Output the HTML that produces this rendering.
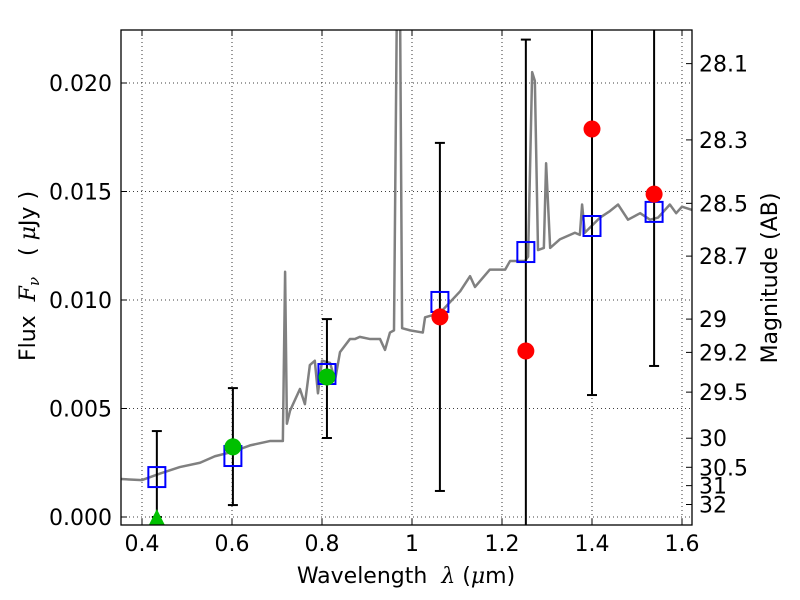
<!DOCTYPE html>
<html><head><meta charset="utf-8"><style>
html,body{margin:0;background:#fff;overflow:hidden;width:800px;height:600px}
svg{display:block;font-family:"DejaVu Sans","Liberation Sans",sans-serif}
text{white-space:pre}
</style></head><body>
<svg id="chart" width="800" height="600" xmlns="http://www.w3.org/2000/svg">
<defs><clipPath id="clip"><rect x="121" y="30" width="571" height="495"/></clipPath></defs>
<rect width="800" height="600" fill="#fff"/>
<g id="grid"></g>
<g id="marks" clip-path="url(#clip)"></g>
<g id="axes"></g>
<text x="406" y="583" text-anchor="middle" font-size="22">Wavelength  <tspan font-style="italic" font-family="DejaVu Serif, serif">λ</tspan> (<tspan font-style="italic" font-family="DejaVu Serif, serif">μ</tspan>m)</text>
<text transform="translate(35,276) rotate(-90)" text-anchor="middle" font-size="22">Flux  <tspan font-style="italic" font-family="DejaVu Serif, serif">F</tspan><tspan font-style="italic" font-family="DejaVu Serif, serif" font-size="15" dy="4">ν</tspan><tspan dy="-4">   ( </tspan><tspan font-style="italic" font-family="DejaVu Serif, serif">μ</tspan>Jy )</text>
<text transform="translate(777,278) rotate(-90)" text-anchor="middle" font-size="22">Magnitude (AB)</text>
</svg>
<script>
const specWl=[0.34,0.353,0.4,0.44,0.484,0.529,0.562,0.6,0.64,0.684,0.713,0.718,0.722,0.729,0.751,0.762,0.773,0.784,0.791,0.8,0.818,0.829,0.84,0.862,0.873,0.884,0.907,0.929,0.94,0.951,0.96,0.967,0.973,0.978,0.996,1.024,1.029,1.062,1.107,1.129,1.14,1.173,1.207,1.218,1.229,1.251,1.258,1.267,1.273,1.28,1.293,1.298,1.307,1.329,1.362,1.373,1.378,1.384,1.418,1.44,1.458,1.48,1.507,1.529,1.547,1.573,1.587,1.6,1.63];
const specFlux=[0.00175,0.00175,0.0017,0.0020,0.0023,0.0025,0.0028,0.0030,0.0033,0.0035,0.0035,0.0113,0.0043,0.0049,0.0059,0.0052,0.0070,0.0072,0.0057,0.0072,0.0071,0.0063,0.0076,0.0082,0.0082,0.0083,0.0082,0.0082,0.0077,0.0085,0.0086,0.025,0.025,0.0087,0.0086,0.0085,0.0092,0.0094,0.0104,0.0111,0.0106,0.0114,0.0114,0.0118,0.0118,0.0118,0.0120,0.0205,0.0201,0.0123,0.0124,0.0163,0.0124,0.0128,0.0131,0.0130,0.0144,0.0131,0.0138,0.0141,0.0144,0.0137,0.0140,0.0137,0.0138,0.0144,0.0140,0.0143,0.0141];
const modelWl=[0.433,0.602,0.811,1.062,1.253,1.4,1.538];
const modelFlux=[0.00184,0.00281,0.00659,0.00991,0.01221,0.01341,0.01406];
const obsWl=[0.433,0.602,0.811,1.062,1.253,1.4,1.538];
const obsFlux=[0.0,0.00323,0.00645,0.00922,0.00765,0.01788,0.01488];
const obsLo=[0.0,0.00055,0.00364,0.0012,-0.0067,0.00562,0.00696];
const obsHi=[0.00396,0.00594,0.00912,0.01724,0.0220,0.030,0.0228];
const obsColor=['#00c000','#00c000','#00c000','red','red','red','red'];
const xTicks=[0.4,0.6,0.8,1.0,1.2,1.4,1.6];
const xTickLabels=['0.4','0.6','0.8','1','1.2','1.4','1.6'];
const yTicks=[0,0.005,0.01,0.015,0.02];
const yTickLabels=['0.000','0.005','0.010','0.015','0.020'];
const magTicks=[28.1,28.3,28.5,28.7,29,29.2,29.5,30,30.5,31,32];
const magTickLabels=['28.1','28.3','28.5','28.7','29','29.2','29.5','30','30.5','31','32'];

const L=121,R=692,T=30,B=525;
const X=w=>142+(w-0.4)*450;
const Y=f=>517-f*21700;
const NS='http://www.w3.org/2000/svg';
function mk(tag,attrs,parent,text){const e=document.createElementNS(NS,tag);for(const k in attrs)e.setAttribute(k,attrs[k]);if(text!==undefined)e.textContent=text;parent.appendChild(e);return e;}
const grid=document.getElementById('grid'),marks=document.getElementById('marks'),axes=document.getElementById('axes');
xTicks.forEach(v=>{const l=mk('line',{x1:X(v),x2:X(v),y1:T,y2:B,stroke:'#000','stroke-width':0.8,'stroke-dasharray':'1,3'},grid);

});
yTicks.forEach(v=>{const l=mk('line',{x1:L,x2:R,y1:Y(v),y2:Y(v),stroke:'#000','stroke-width':0.8,'stroke-dasharray':'1,3'},grid);

});
const sp=mk('polyline',{points:specWl.map((w,i)=>X(w)+','+Y(specFlux[i])).join(' '),fill:'none',stroke:'#808080','stroke-width':2.5,'stroke-linejoin':'round'},marks);


obsWl.forEach((w,i)=>{const g=mk('g',{},marks);


const x=X(w);mk('line',{x1:x,x2:x,y1:Y(obsHi[i]),y2:Y(obsLo[i]),stroke:'#000','stroke-width':2},g);
mk('line',{x1:x-5,x2:x+5,y1:Y(obsHi[i]),y2:Y(obsHi[i]),stroke:'#000','stroke-width':2},g);
mk('line',{x1:x-5,x2:x+5,y1:Y(obsLo[i]),y2:Y(obsLo[i]),stroke:'#000','stroke-width':2},g);});
modelWl.forEach((w,i)=>{const r=mk('rect',{x:X(w)-8.5,y:Y(modelFlux[i])-10,width:17,height:20,fill:'none',stroke:'#0000ff','stroke-width':2},marks);

});
obsWl.forEach((w,i)=>{let e;
if(i===0){const x=X(w),y=Y(obsFlux[i]);e=mk('polygon',{points:`${x},${y-8} ${x-8},${y+8} ${x+8},${y+8}`,fill:obsColor[i]},marks);}
else e=mk('circle',{cx:X(w),cy:Y(obsFlux[i]),r:8.5,fill:obsColor[i]},marks);

});
const fr=mk('rect',{x:L,y:T,width:R-L,height:B-T,fill:'none',stroke:'#000','stroke-width':1.3},axes);


xTicks.forEach((v,i)=>{const x=X(v);mk('line',{x1:x,x2:x,y1:B,y2:B-6,stroke:'#000'},axes);mk('line',{x1:x,x2:x,y1:T,y2:T+6,stroke:'#000'},axes);
const t=mk('text',{x:x,y:551,'text-anchor':'middle','font-size':22},axes,xTickLabels[i]);

});
yTicks.forEach((v,i)=>{const y=Y(v);mk('line',{x1:L,x2:L+6,y1:y,y2:y,stroke:'#000'},axes);
const t=mk('text',{x:112,y:y+8,'text-anchor':'end','font-size':22},axes,yTickLabels[i]);

});
magTicks.forEach((m,i)=>{const y=Y(Math.pow(10,(23.9-m)/2.5));mk('line',{x1:R,x2:R-6,y1:y,y2:y,stroke:'#000'},axes);
const t=mk('text',{x:699,y:y+8,'font-size':22},axes,magTickLabels[i]);

});
</script>
</body></html>
